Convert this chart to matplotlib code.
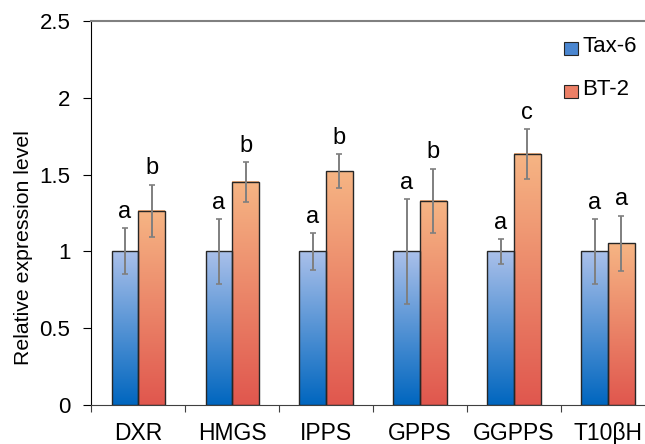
import matplotlib.pyplot as plt
import numpy as np
from matplotlib.colors import LinearSegmentedColormap
from matplotlib.patches import Rectangle

plt.rcParams["font.family"] = ["Liberation Sans", "DejaVu Sans"]

genes = ["DXR", "HMGS", "IPPS", "GPPS", "GGPPS", "T10βH"]
tax6 = [1.0, 1.0, 1.0, 1.0, 1.0, 1.0]
tax6_err = [0.15, 0.21, 0.12, 0.34, 0.08, 0.21]
bt2 = [1.265, 1.452, 1.521, 1.328, 1.634, 1.053]
bt2_err = [0.17, 0.13, 0.11, 0.21, 0.16, 0.18]
tax6_sig = ["a", "a", "a", "a", "a", "a"]
bt2_sig = ["b", "b", "b", "b", "c", "a"]

blue_cmap = LinearSegmentedColormap.from_list("blue", ["#0066bf", "#aac0ea"])
orange_cmap = LinearSegmentedColormap.from_list("orange", ["#e0574e", "#f6b584"])

fig = plt.figure(figsize=(6.45, 4.44), dpi=100)
ax = fig.add_axes([0.1415, 0.0878, 0.874, 0.865])

width = 0.284
grad = np.linspace(0, 1, 256).reshape(-1, 1)


def grad_bar(x0, h, cmap):  # столбик с вертикальным градиентом
    ax.imshow(grad, cmap=cmap, origin="lower", aspect="auto",
              extent=(x0, x0 + width, 0, h), zorder=2)
    ax.add_patch(Rectangle((x0, 0), width, h, fill=False,
                           edgecolor="#262626", linewidth=1.0, zorder=3))


for i in range(len(genes)):
    c = i + 0.5
    grad_bar(c - width, tax6[i], blue_cmap)
    grad_bar(c, bt2[i], orange_cmap)

centers = np.arange(len(genes)) + 0.5
ax.errorbar(centers - width / 2, tax6, yerr=tax6_err, fmt="none",
            ecolor="#7f7f7f", elinewidth=1.4, capsize=2.5, capthick=1.2, zorder=4)
ax.errorbar(centers + width / 2, bt2, yerr=bt2_err, fmt="none",
            ecolor="#7f7f7f", elinewidth=1.4, capsize=2.5, capthick=1.2, zorder=4)

for i in range(len(genes)):
    ax.text(centers[i] - width / 2, tax6[i] + tax6_err[i] + 0.035, tax6_sig[i],
            ha="center", va="bottom", fontsize=17)
    ax.text(centers[i] + width / 2, bt2[i] + bt2_err[i] + 0.035, bt2_sig[i],
            ha="center", va="bottom", fontsize=17)

# легенда
ax.add_patch(Rectangle((5.035, 2.279), 0.145, 0.086, facecolor="#4a86d0",
                       edgecolor="#262626", linewidth=0.8, zorder=5, clip_on=False))
ax.add_patch(Rectangle((5.035, 2.0), 0.145, 0.086, facecolor="#ec7f66",
                       edgecolor="#262626", linewidth=0.8, zorder=5, clip_on=False))
ax.text(5.227, 2.334, "Tax-6", fontsize=16, va="center", ha="left")
ax.text(5.227, 2.051, "BT-2", fontsize=16, va="center", ha="left")

ax.set_xlim(0, 6)
ax.set_ylim(0, 2.5)
ax.set_yticks([0, 0.5, 1, 1.5, 2, 2.5])
ax.set_yticklabels(["0", "0.5", "1", "1.5", "2", "2.5"])
ax.set_xticks(np.arange(0, 7))
ax.set_xticklabels([])
ax.set_xticks(centers, minor=True)
ax.set_xticklabels(genes, minor=True)
ax.tick_params(axis="x", which="minor", length=0, pad=12, labelsize=16.5)
ax.tick_params(axis="x", which="major", length=5, color="#404040", direction="out")
ax.tick_params(axis="y", length=6, labelsize=16, pad=9, direction="out")
ax.set_ylabel("Relative expression level", fontsize=15.3)
ax.yaxis.set_label_coords(-0.104, 0.41)

ax.spines["right"].set_visible(False)
ax.spines["top"].set_color("#808080")
ax.spines["top"].set_linewidth(1.5)
ax.spines["left"].set_color("#000000")
ax.spines["bottom"].set_color("#404040")

fig.savefig("out.png", dpi=100)
